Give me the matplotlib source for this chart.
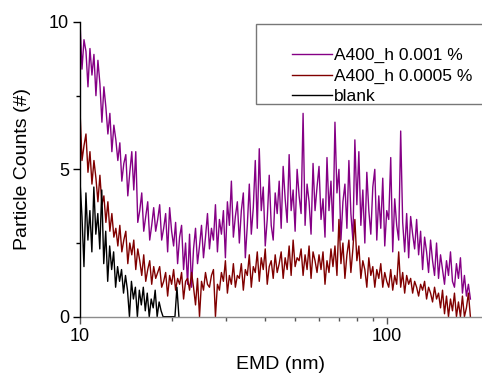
import numpy as np
import matplotlib
matplotlib.use("Agg")
import matplotlib.pyplot as plt
from matplotlib.patches import Rectangle
from matplotlib.ticker import FixedLocator, NullFormatter, FixedFormatter

plt.rcParams['font.family'] = ['Liberation Sans', 'DejaVu Sans']

# EMD bins (log spaced) used by the counter
emd_main = np.geomspace(10.0, 187.0, 197)
emd_blank = np.geomspace(10.0, 21.0, 51)

labels = ["A400_h 0.001 %", "A400_h 0.0005 %", "blank"]
colors = ["#850085", "#800000", "#000000"]

counts_0001 = [
    10.0, 8.4, 9.4, 9.0, 7.8, 9.1, 8.2, 8.9, 7.5, 8.7,
    7.9, 6.6, 7.8, 7.1, 6.2, 6.9, 5.6, 6.5, 6.0, 5.3,
    5.9, 4.6, 5.2, 5.5, 4.1, 4.9, 5.6, 4.3, 5.6, 3.2,
    3.6, 4.2, 2.9, 3.4, 3.9, 2.6, 3.1, 3.7, 2.9, 3.3,
    3.8, 2.6, 3.0, 3.5, 2.2, 3.7, 2.9, 2.4, 3.2, 1.8,
    2.7, 3.1, 1.6, 2.5, 1.1, 2.8, 1.0, 2.3, 3.0, 1.8,
    2.4, 3.1, 2.0, 2.7, 3.5, 2.3, 3.0, 2.6, 3.8, 2.2,
    3.3, 2.8, 3.6, 2.0, 3.9, 3.1, 4.6, 2.7, 3.4, 3.9,
    2.5, 3.6, 4.2, 2.0, 3.1, 4.5, 2.8, 3.7, 5.3, 3.0,
    5.7, 3.6, 4.4, 2.4, 3.3, 4.8, 3.1, 2.6, 4.2, 3.5,
    4.6, 3.0, 5.1, 4.0, 3.2, 5.5, 3.6, 4.3, 2.9, 5.0,
    4.1, 3.5, 6.9, 3.1, 4.5, 3.9, 2.8, 5.2, 3.6, 4.4,
    5.1, 3.3, 4.0, 2.7, 5.4, 3.6, 4.6, 2.9, 6.6, 4.2,
    5.0, 2.6, 3.9, 4.5, 3.0, 5.3, 3.5, 2.6, 6.0, 3.8,
    5.6, 3.1, 4.3, 2.5, 4.9, 3.6, 2.8, 4.4, 5.0, 2.6,
    4.1, 3.0, 4.7, 2.4, 3.6, 3.3, 5.4, 2.2, 4.0, 3.1,
    2.6, 6.3, 3.2, 2.2, 3.5, 2.0, 3.4, 2.8, 2.3, 3.3,
    2.1, 2.9, 1.6, 2.7, 2.2, 1.5, 2.6, 1.9, 1.4, 2.5,
    1.3, 2.1, 1.6, 1.1, 1.9, 1.4, 2.2, 1.2, 1.0, 1.8,
    1.3, 2.0, 0.8, 1.4, 0.7, 1.1, 0.6,
]

counts_00005 = [
    7.0, 5.3, 5.8, 6.2, 4.9, 5.6, 4.5, 5.3, 4.7, 3.9,
    4.8, 3.8, 4.1, 3.2, 3.9, 2.9, 3.5, 2.7, 3.0, 2.4,
    3.1, 2.2, 2.6, 2.9, 1.8, 2.5, 2.1, 2.6, 1.6, 2.3,
    1.9, 1.4, 2.1, 1.2, 1.6, 1.9, 1.1, 1.7, 1.3, 1.5,
    1.7, 1.0, 1.2, 1.5, 0.7, 1.4, 1.1, 1.6, 0.9, 1.3,
    1.1, 1.5, 0.6, 1.2, 1.3, 0.9, 1.5, 1.0, 0.4, 1.3,
    0.0, 1.2, 0.9, 1.5, 1.1, 1.0, 1.4, 1.6, 0.0, 1.1,
    0.9, 1.5, 1.2, 1.9, 0.8, 1.4, 1.1, 1.8, 1.0, 1.4,
    1.3, 1.8, 0.9, 1.6, 1.4, 2.1, 1.0, 1.7, 1.5, 2.2,
    1.2, 2.0, 1.6, 2.3, 1.1, 1.7, 1.9, 1.3, 2.1, 1.5,
    1.8, 2.2, 1.3, 2.0, 1.6, 2.4, 1.4, 2.6, 1.7, 2.0,
    1.9, 2.3, 1.4, 2.1, 1.6, 2.4, 1.3, 2.2, 1.9, 1.5,
    2.1, 1.6, 2.2, 1.1, 1.9, 1.5, 2.3, 1.7, 2.4, 1.4,
    3.3, 1.8, 2.5, 1.3, 2.1, 2.6, 1.5, 2.3, 3.3, 1.9,
    2.4, 1.3, 1.9, 1.6, 1.0, 2.0, 1.4, 1.7, 1.0, 1.6,
    1.3, 1.8, 1.0, 1.5, 1.2, 1.0, 1.6, 0.9, 1.4, 1.1,
    2.2, 1.0, 1.5, 0.8, 1.4, 1.1, 1.3, 0.8, 1.2, 1.0,
    0.7, 1.1, 0.9, 1.2, 0.6, 1.0, 0.8, 0.5, 1.0, 0.6,
    0.8, 0.3, 0.9, 0.1, 0.7, 0.0, 0.6, 0.2, 0.8, 0.0,
    0.5, 0.0, 0.7, 0.0, 0.3, 0.8, 0.0,
]

counts_blank = [
    4.6, 3.4, 1.7, 4.2, 2.6, 3.6, 2.2, 4.4, 2.8, 3.5,
    2.3, 4.3, 1.8, 2.9, 1.2, 2.4, 1.6, 2.2, 1.0, 1.7,
    1.2, 1.6, 0.8, 1.4, 0.9, 0.0, 1.2, 0.6, 1.0, 0.0,
    0.9, 0.4, 1.0, 0.2, 0.8, 0.0, 0.6, 0.3, 0.9, 0.0,
    0.5, 0.2, 0.0, 0.0, 0.0, 0.0, 0.0, 0.0, 0.0, 1.0,
    0.0,
]

W, H = 482, 376
fig = plt.figure(figsize=(W / 100, H / 100), dpi=100)
ax = fig.add_axes([80 / W, (H - 316.7) / H, (W - 80) / W, (316.7 - 22) / H])

series = [(emd_main, counts_0001), (emd_main, counts_00005), (emd_blank, counts_blank)]
for (x, y), lab, col in zip(series, labels, colors):
    ax.plot(x, y, color=col, lw=1.0, label=lab)

ax.set_xscale('log')
ax.set_xlim(10, 204)
ax.set_ylim(0, 10)

for s in ['top', 'right']:
    ax.spines[s].set_visible(False)
ax.spines['bottom'].set_color('#8c8c8c')
ax.spines['bottom'].set_linewidth(1.0)
ax.spines['left'].set_color('black')
ax.spines['left'].set_linewidth(1.0)
ax.spines['left'].set_zorder(5)

ax.xaxis.set_major_locator(FixedLocator([10, 100]))
ax.xaxis.set_major_formatter(FixedFormatter(['10', '100']))
ax.xaxis.set_minor_locator(FixedLocator([20, 30, 40, 50, 60, 70, 80, 90]))
ax.xaxis.set_minor_formatter(NullFormatter())
ax.yaxis.set_major_locator(FixedLocator([0, 5, 10]))
ax.yaxis.set_major_formatter(FixedFormatter(['0', '5', '10']))
ax.yaxis.set_minor_locator(FixedLocator([2.5, 7.5]))

ax.tick_params(axis='both', which='major', direction='out', length=5, width=1.0,
               labelsize=13, colors='black', pad=3)
ax.tick_params(axis='both', which='minor', direction='out', length=3, width=1.0,
               colors='black')
ax.tick_params(axis='x', which='both', colors='#555555', labelcolor='black')

ax.set_xlabel('EMD (nm)', fontsize=14, labelpad=8)
ax.set_ylabel('Particle Counts (#)', fontsize=14, labelpad=13)

# legend frame drawn separately so it can run off the right edge
frame = Rectangle((255.5 / W, (H - 104) / H), (W + 10 - 255.5) / W, (104 - 24.3) / H,
                  transform=fig.transFigure, fill=True, facecolor='white',
                  edgecolor='#777777', lw=1.0, zorder=10, clip_on=False)
ax.add_patch(frame)
leg = ax.legend(loc='upper left', bbox_to_anchor=(291.7 / W, (H - 48) / H),
                bbox_transform=fig.transFigure, frameon=False, fontsize=12.5,
                handlelength=2.3, handletextpad=0.15, labelspacing=0.3,
                borderpad=0, borderaxespad=0)
leg.set_zorder(11)

fig.savefig('out.png', dpi=100)
